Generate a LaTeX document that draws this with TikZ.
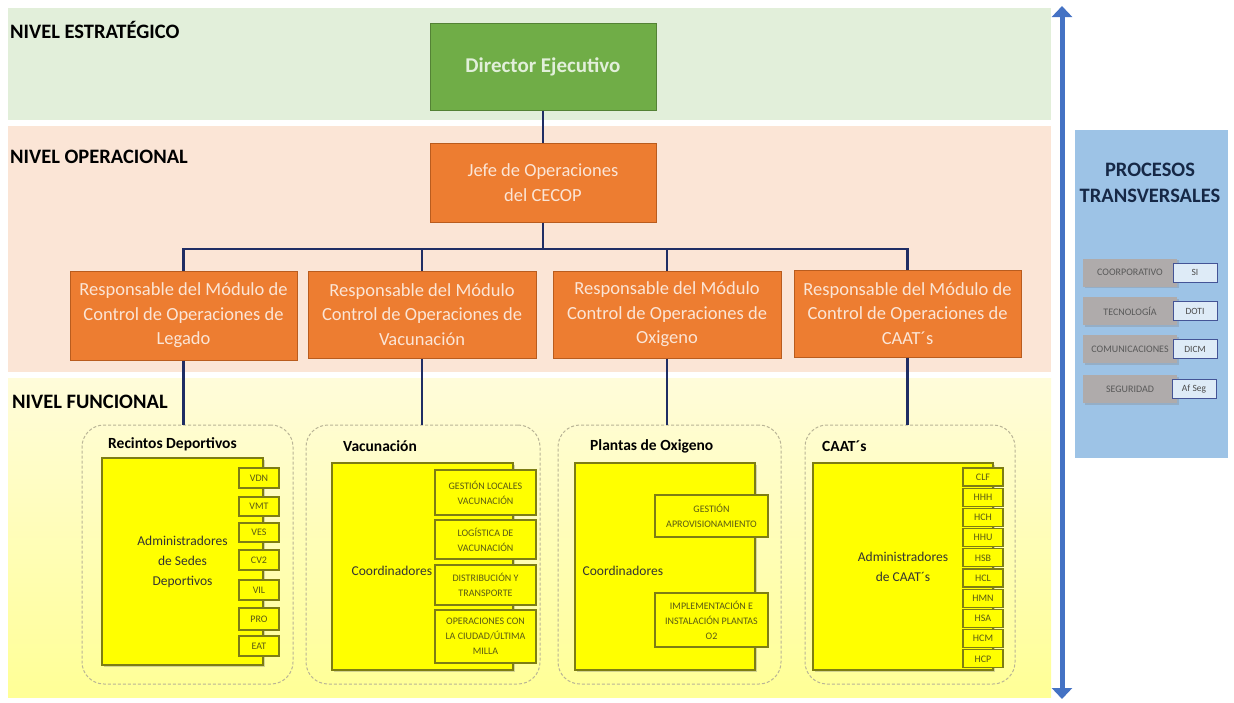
\documentclass[tikz,border=0pt]{standalone}
\usepackage{fontspec}
\setmainfont{Carlito}
\usetikzlibrary{arrows.meta,shadows}
\definecolor{bandgreen}{RGB}{226,239,218}
\definecolor{bandpink}{RGB}{251,229,214}
\definecolor{bandyelA}{RGB}{255,252,218}
\definecolor{bandyelB}{RGB}{255,255,150}
\definecolor{dirgreen}{RGB}{112,173,71}
\definecolor{dirgreenD}{RGB}{84,130,53}
\definecolor{orangeF}{RGB}{237,125,49}
\definecolor{orangeD}{RGB}{185,92,30}
\definecolor{navyline}{RGB}{31,45,100}
\definecolor{ybox}{RGB}{255,255,0}
\definecolor{yboxD}{RGB}{125,125,20}
\definecolor{grpline}{RGB}{185,180,150}
\definecolor{arrblue}{RGB}{68,114,196}
\definecolor{panelblue}{RGB}{157,195,230}
\definecolor{grayF}{RGB}{175,171,171}
\definecolor{lblue}{RGB}{222,235,247}
\definecolor{lblueD}{RGB}{68,84,150}
\definecolor{titlenavy}{RGB}{22,40,70}
\definecolor{smalltext}{RGB}{90,90,20}
\begin{document}
\begin{tikzpicture}[x=1pt,y=-1pt,
  conn/.style={draw=navyline, line width=2.5pt},
  lvl/.style={anchor=west, font=\fontsize{20.5}{24}\selectfont\bfseries, text=black, inner sep=0pt},
  dirbox/.style={draw=dirgreenD, fill=dirgreen, line width=1pt, text=bandgreen, align=center,
     font=\fontsize{21}{26}\selectfont\bfseries, inner sep=2pt},
  opbox/.style={draw=orangeD, fill=orangeF, line width=1pt, text=bandpink, align=center,
     font=\fontsize{18.5}{24.5}\selectfont, inner sep=2pt},
  grpbox/.style={draw=grpline, dash pattern=on 3pt off 2pt, line width=1pt, rounded corners=22pt},
  grptitle/.style={anchor=west, font=\fontsize{15.5}{18}\selectfont\bfseries, text=black, inner sep=0pt},
  mainbox/.style={draw=yboxD, fill=ybox, line width=1.2pt, align=center,
     font=\fontsize{13.5}{20}\selectfont, text=black!80, inner sep=2pt,
     drop shadow={shadow xshift=2pt, shadow yshift=-2pt, opacity=0.35}},
  maintext/.style={anchor=west, font=\fontsize{13.5}{20}\selectfont, text=black!80, inner sep=0pt},
  subbox/.style={draw=yboxD, fill=ybox, line width=1.2pt, align=center,
     font=\fontsize{10}{15}\selectfont, text=smalltext, inner sep=1pt},
  codebox/.style={draw=yboxD, fill=ybox, line width=1.2pt, align=center,
     font=\fontsize{10}{11}\selectfont, text=smalltext, inner sep=0pt, minimum width=40pt},
  graybox/.style={fill=grayF, align=center, font=\fontsize{10}{11}\selectfont, text=black!65,
     inner sep=0pt, minimum width=94pt, minimum height=28pt,
     drop shadow={shadow xshift=1.5pt, shadow yshift=-1.5pt, opacity=0.3}},
  lbox/.style={draw=lblueD, fill=lblue, line width=0.8pt, align=center, font=\fontsize{9.5}{11}\selectfont,
     text=black!70, inner sep=0pt, minimum width=44pt, minimum height=19pt}
]
\useasboundingbox (0,0) rectangle (1234,702);

% bands
\fill[bandgreen] (8,8) rectangle (1051,120);
\fill[bandpink] (8,126) rectangle (1051,372);
\shade[top color=bandyelA, bottom color=bandyelB] (8,378) rectangle (1051,697);

% level labels
\node[lvl] (l1) at (10,30) {NIVEL ESTRATÉGICO};
\node[lvl] (l2) at (10,157) {NIVEL OPERACIONAL};
\node[lvl] (l3) at (12,402) {NIVEL FUNCIONAL};

% top nodes
\node[dirbox, minimum width=226pt, minimum height=87pt] (dir) at (543,66.5) {Director Ejecutivo};
\node[opbox, minimum width=226pt, minimum height=79pt] (jefe) at (543,182.5) {Jefe de Operaciones\\del CECOP};

\node[opbox, minimum width=227pt, minimum height=89pt] (r1) at (183.5,315.5) {Responsable del Módulo de\\Control de Operaciones de\\Legado};
\node[opbox, minimum width=228pt, minimum height=87pt] (r2) at (422,314.5) {Responsable del Módulo\\Control de Operaciones de\\Vacunación};
\node[opbox, minimum width=228pt, minimum height=87pt] (r3) at (667,314.5) {Responsable del Módulo\\Control de Operaciones de\\Oxigeno};
\node[opbox, minimum width=227pt, minimum height=87pt] (r4) at (907.5,313.5) {Responsable del Módulo de\\Control de Operaciones de\\CAAT´s};

% groups
\node[grpbox, minimum width=211pt, minimum height=259pt] (g1) at (187.5,554.5) {};
\node[grpbox, minimum width=234pt, minimum height=259pt] (g2) at (423,554.5) {};
\node[grpbox, minimum width=223pt, minimum height=259pt] (g3) at (669.5,554.5) {};
\node[grpbox, minimum width=210pt, minimum height=259pt] (g4) at (910,554.5) {};

\node[grptitle] (t1) at (108,444) {Recintos Deportivos};
\node[grptitle] (t2) at (343,446) {Vacunación};
\node[grptitle] (t3) at (590,446) {Plantas de Oxigeno};
\node[grptitle] (t4) at (822,446) {CAAT´s};

% connectors
\coordinate (bus) at (543,249);
\draw[conn] (dir.south) -- (jefe.north);
\draw[conn] (jefe.south) -- (bus);
\draw[conn] (bus) -| (r1.north);
\draw[conn] (bus) -| (r2.north);
\draw[conn] (bus) -| (r3.north);
\draw[conn] (bus) -| (r4.north);
\draw[conn] (r1.south) -- (r1.south |- g1.north);
\draw[conn] (r2.south) -- (r2.south |- g2.north);
\draw[conn] (r3.south) -- (r3.south |- g3.north);
\draw[conn] (r4.south) -- (r4.south |- g4.north);

% group 1
\node[mainbox, minimum width=161pt, minimum height=207pt] (m1) at (182.5,561.5) {Administradores\\de Sedes\\Deportivos};
\foreach \t/\yy/\hh [count=\i] in {VDN/478/20, VMT/506.5/19, VES/532.5/19, CV2/560/20, VIL/590/20, PRO/619/22, EAT/646/20}
  \node[codebox, minimum height=\hh pt] (c1-\i) at (259,\yy) {\t};

% group 2
\node[mainbox, minimum width=181pt, minimum height=207pt] (m2) at (422.5,566.5) {};
\node[maintext] (m2t) at ([xshift=20pt,yshift=-4pt]m2.west) {Coordinadores};
\node[subbox, minimum width=101pt, minimum height=45pt] (s21) at (485.5,492.5) {GESTIÓN LOCALES\\VACUNACIÓN};
\node[subbox, minimum width=101pt, minimum height=39pt] (s22) at (485.5,539.5) {LOGÍSTICA DE\\VACUNACIÓN};
\node[subbox, minimum width=101pt, minimum height=40pt] (s23) at (485.5,585) {DISTRIBUCIÓN Y\\TRANSPORTE};
\node[subbox, minimum width=101pt, minimum height=53pt] (s24) at (485.5,636.5) {OPERACIONES CON\\LA CIUDAD/ÚLTIMA\\MILLA};

% group 3
\node[mainbox, minimum width=180pt, minimum height=207pt] (m3) at (665,566.5) {};
\node[maintext] (m3t) at ([xshift=8pt,yshift=-4pt]m3.west) {Coordinadores};
\node[subbox, minimum width=113pt, minimum height=42pt] (s31) at (711.5,516) {GESTIÓN\\APROVISIONAMIENTO};
\node[subbox, minimum width=113pt, minimum height=54pt] (s32) at (711.5,620) {IMPLEMENTACIÓN E\\INSTALACIÓN PLANTAS\\O2};

% group 4
\node[mainbox, minimum width=180pt, minimum height=207pt] (m4) at (903,566.5) {Administradores\\de CAAT´s};
\foreach \t [count=\i from 0] in {CLF,HHH,HCH,HHU,HSB,HCL,HMN,HSA,HCM,HCP}
  \node[codebox, minimum height=18pt] (c4-\i) at (983,{477+20.2*\i}) {\t};

% right panel
\node[fill=panelblue, minimum width=153pt, minimum height=328pt, inner sep=0pt] (panel) at (1151.5,294) {};
\node[font=\fontsize{20.5}{26}\selectfont\bfseries, text=titlenavy, align=center, inner sep=0pt] (ptitle) at (1150,183) {PROCESOS\\TRANSVERSALES};
\node[graybox] (p1) at (1130,272.5) {COORPORATIVO};
\node[graybox] (p2) at (1130,311) {TECNOLOGÍA};
\node[graybox] (p3) at (1130,349) {COMUNICACIONES};
\node[graybox] (p4) at (1130,389) {SEGURIDAD};
\node[lbox] (q1) at (1195,272.5) {SI};
\node[lbox] (q2) at (1195,311) {DOTI};
\node[lbox] (q3) at (1195,349) {DICM};
\node[lbox] (q4) at (1194,389) {Af Seg};

% vertical double arrow
\coordinate (atop) at (1062,6);
\coordinate (abot) at (1062,699);
\draw[draw=arrblue, line width=5pt, {Triangle[width=20pt,length=11pt]}-{Triangle[width=20pt,length=11pt]}] (atop) -- (abot);
\end{tikzpicture}
\end{document}
